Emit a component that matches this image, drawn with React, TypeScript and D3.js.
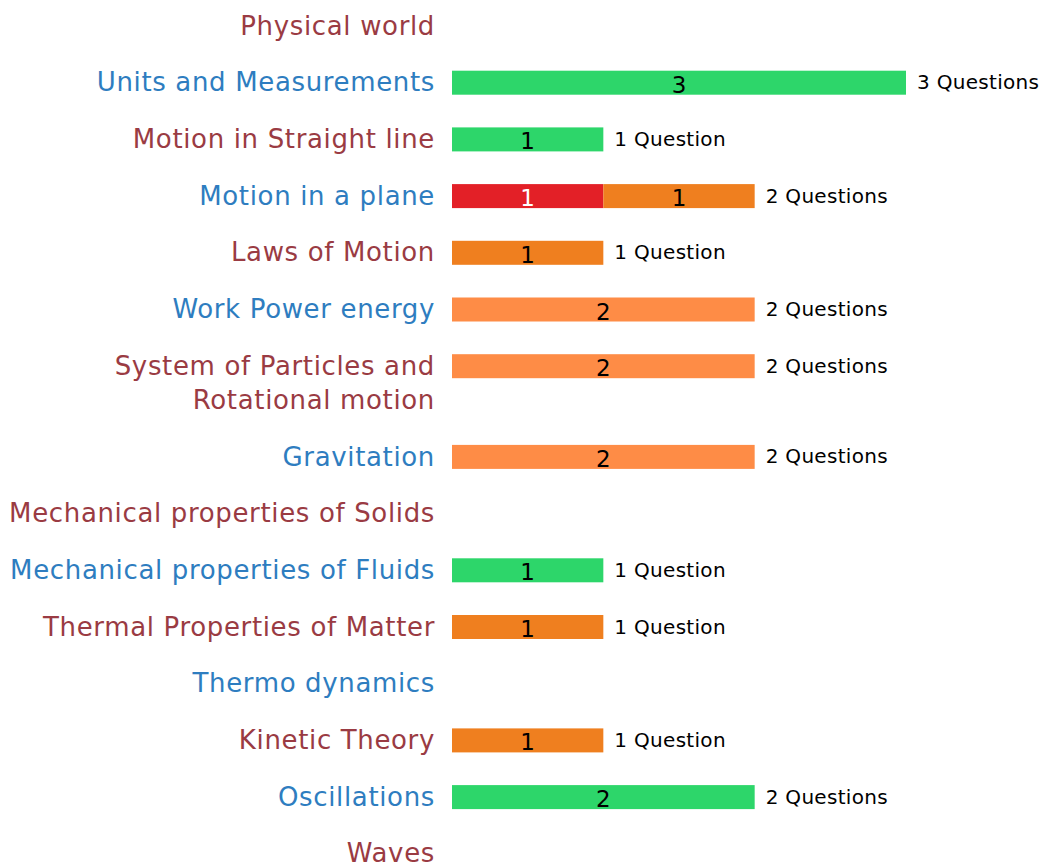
import React from "react";
import * as d3 from "d3";

const categories: string[][] = [
  ["Physical world"],
  ["Units and Measurements"],
  ["Motion in Straight line"],
  ["Motion in a plane"],
  ["Laws of Motion"],
  ["Work Power energy"],
  ["System of Particles and", "Rotational motion"],
  ["Gravitation"],
  ["Mechanical properties of Solids"],
  ["Mechanical properties of Fluids"],
  ["Thermal Properties of Matter"],
  ["Thermo dynamics"],
  ["Kinetic Theory"],
  ["Oscillations"],
  ["Waves"],
];

const redSeries = [0, 0, 0, 1, 0, 0, 0, 0, 0, 0, 0, 0, 0, 0, 0];
const orangeSeries = [0, 0, 0, 1, 1, 0, 0, 0, 0, 0, 1, 0, 1, 0, 0];
const lightOrangeSeries = [0, 0, 0, 0, 0, 2, 2, 2, 0, 0, 0, 0, 0, 0, 0];
const greenSeries = [0, 3, 1, 0, 0, 0, 0, 0, 0, 1, 0, 0, 0, 2, 0];

const seriesKeys = ["red", "orange", "lightOrange", "green"];
const seriesColors: Record<string, string> = {
  red: "#e32027",
  orange: "#ef7f1f",
  lightOrange: "#fe8c46",
  green: "#2dd66a",
};
const seriesTextColors: Record<string, string> = {
  red: "#ffffff",
  orange: "#000000",
  lightOrange: "#000000",
  green: "#000000",
};
const labelColors = ["#9a3b43", "#2e7dc0"];

const W = 1040;
const H = 866;
const FONT = "'DejaVu Sans', sans-serif";

export default function App() {
  const rows = categories.map((lines, i) => ({
    key: i,
    lines,
    red: redSeries[i],
    orange: orangeSeries[i],
    lightOrange: lightOrangeSeries[i],
    green: greenSeries[i],
  }));

  const x = d3.scaleLinear().domain([0, 3]).range([452, 906]);
  const rowScale = d3.scaleLinear().domain([0, 1]).range([25.5, 82.2]);
  const extraLine = 34;
  let extra = 0;
  const rowY = rows.map((r) => {
    const y = rowScale(r.key) + extra;
    extra += (r.lines.length - 1) * extraLine;
    return y;
  });

  const stack = d3.stack<any>().keys(seriesKeys);
  const stacked = stack(rows);
  const barH = 24;

  return (
    <svg
      width={W}
      height={H}
      style={{ position: "absolute", left: 0, top: 0, background: "#fff" }}
      fontFamily={FONT}
    >
      {rows.map((r, i) => (
        <text
          key={"l" + i}
          x={435}
          y={rowY[i]}
          textAnchor="end"
          fontSize={26}
          letterSpacing={0.65}
          fill={labelColors[i % 2]}
        >
          {r.lines.map((ln, j) => (
            <tspan key={j} x={435} y={rowY[i] + j * extraLine} dy="0.35em">
              {ln}
            </tspan>
          ))}
        </text>
      ))}
      {stacked.map((s) => (
        <g key={s.key} fill={seriesColors[s.key]}>
          {s.map((d, i) =>
            d[1] - d[0] > 0 ? (
              <g key={i}>
                <rect
                  x={x(d[0])}
                  y={rowY[i] + 0.5 - barH / 2}
                  width={x(d[1]) - x(d[0])}
                  height={barH}
                />
                <text
                  x={(x(d[0]) + x(d[1])) / 2}
                  y={rowY[i] + 2.5}
                  dy="0.35em"
                  textAnchor="middle"
                  fontSize={23}
                  fill={seriesTextColors[s.key]}
                >
                  {d[1] - d[0]}
                </text>
              </g>
            ) : null
          )}
        </g>
      ))}
      {rows.map((r, i) => {
        const total = r.red + r.orange + r.lightOrange + r.green;
        if (!total) return null;
        return (
          <text
            key={"t" + i}
            x={x(total) + 11}
            y={rowY[i]}
            dy="0.35em"
            fontSize={20}
            letterSpacing={0.3}
            fill="#000"
          >
            {total + (total === 1 ? " Question" : " Questions")}
          </text>
        );
      })}
    </svg>
  );
}
